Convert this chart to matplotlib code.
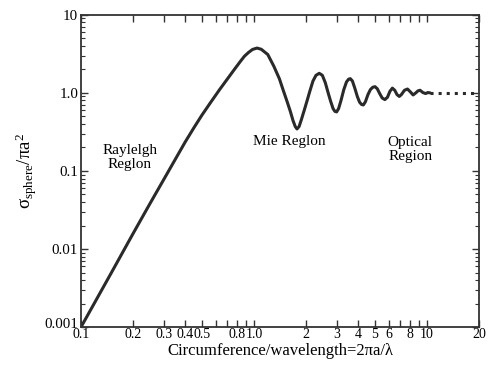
import matplotlib
matplotlib.use("Agg")
import matplotlib.pyplot as plt
import matplotlib.transforms as mtransforms
from matplotlib.ticker import FixedLocator, NullLocator, LogLocator, NullFormatter

plt.rcParams['font.family'] = ['Liberation Serif', 'DejaVu Serif']
plt.rcParams['mathtext.fontset'] = 'custom'
plt.rcParams['mathtext.rm'] = 'Liberation Serif'
plt.rcParams['mathtext.it'] = 'Liberation Serif:italic'

# curve (solid part)
ka = [0.1, 0.15, 0.2, 0.25, 0.3, 0.35, 0.4, 0.45, 0.5, 0.56, 0.63, 0.7, 0.77,
      0.83, 0.88, 0.93, 0.98, 1.04, 1.1, 1.2, 1.3, 1.4, 1.47, 1.55, 1.62,
      1.68, 1.73, 1.77, 1.82, 1.88, 1.95, 2.02, 2.1, 2.19, 2.28, 2.38, 2.48,
      2.58, 2.68, 2.77, 2.86, 2.93, 3.0, 3.08, 3.18, 3.3, 3.42, 3.52, 3.6,
      3.7, 3.82, 3.95, 4.07, 4.18, 4.28, 4.4, 4.55, 4.7, 4.85, 5.0, 5.15,
      5.32, 5.5, 5.7, 5.9, 6.1, 6.3, 6.5, 6.7, 6.9, 7.1, 7.4, 7.7, 8.0, 8.3,
      8.6, 8.85, 9.1, 9.45, 9.8, 10.1, 10.4]
rcs = [0.001, 0.005, 0.0158, 0.038, 0.077, 0.14, 0.235, 0.36, 0.52, 0.75,
       1.09, 1.5, 2.0, 2.5, 2.95, 3.3, 3.6, 3.75, 3.62, 3.1, 2.2, 1.52,
       1.1, 0.78, 0.58, 0.44, 0.37, 0.345, 0.37, 0.46, 0.6, 0.78, 1.05, 1.42,
       1.68, 1.78, 1.68, 1.35, 1.0, 0.78, 0.63, 0.58, 0.57, 0.63, 0.8, 1.1,
       1.38, 1.5, 1.52, 1.42, 1.15, 0.9, 0.76, 0.71, 0.70, 0.77, 0.95, 1.1,
       1.18, 1.2, 1.13, 0.98, 0.86, 0.82, 0.88, 1.05, 1.15, 1.08, 0.95, 0.9,
       0.95, 1.08, 1.12, 1.03, 0.94, 1.0, 1.06, 1.08, 1.01, 0.98, 1.01, 1.0]

# optical limit (dotted)
ka_opt = [10.4, 20]
rcs_opt = [1.0, 1.0]

xticks = [0.1, 0.2, 0.3, 0.4, 0.5, 0.6, 0.7, 0.8, 0.9, 1.0,
          2, 3, 4, 5, 6, 7, 8, 9, 10, 20]
xlabels = ['0.1', '0.2', '0.3', '0.4', '0.5', '', '', '0.8', '', '1.0',
           '2', '3', '4', '5', '6', '', '8', '', '10', '20']
yticks = [0.001, 0.01, 0.1, 1.0, 10]
ylabels = ['0.001', '0.01', '0.1', '1.0', '10']

fig = plt.figure(figsize=(4.91, 3.70), dpi=100)
ax = fig.add_axes([0.165, 0.116, 0.811, 0.844])

ax.plot(ka, rcs, '-', color='#2a2a2a', linewidth=2.2, solid_capstyle='round',
        solid_joinstyle='round')
ax.plot(ka_opt, rcs_opt, ':', color='#2a2a2a', linewidth=2.2)

ax.set_xscale('log')
ax.set_yscale('log')
ax.set_xlim(0.1, 20)
ax.set_ylim(0.001, 10)

ax.xaxis.set_major_locator(FixedLocator(xticks))
ax.set_xticklabels(xlabels)
ax.xaxis.set_minor_locator(NullLocator())
ax.yaxis.set_major_locator(FixedLocator(yticks))
ax.set_yticklabels(ylabels)
ax.yaxis.set_minor_locator(LogLocator(base=10, subs=range(2, 10)))
ax.yaxis.set_minor_formatter(NullFormatter())

ax.tick_params(which='both', direction='in', top=True, right=True,
               color='#333333', labelsize=10.8, pad=2)
ax.tick_params(axis='x', pad=1, labelsize=10)
ax.tick_params(which='major', length=5, width=1.0)
ax.tick_params(which='minor', length=3, width=0.8)
for s in ax.spines.values():
    s.set_linewidth(1.3)
    s.set_color('#333333')

# lift the lowest y label a little so it clears the 0.1 label below it
low = ax.get_yticklabels()[0]
low.set_transform(low.get_transform() +
                  mtransforms.ScaledTranslation(0, 3 / 72, fig.dpi_scale_trans))

ax.set_xlabel('Circumference/wavelength=2πa/λ', fontsize=12, labelpad=1)
ax.set_ylabel(r'$\mathrm{\sigma_{sphere}/\pi a^2}$', fontsize=13.5, labelpad=4)

ax.text(0.192, 0.15, 'Raylelgh\nReglon', ha='center', va='center',
        fontsize=11, linespacing=1.1)
ax.text(1.59, 0.235, 'Mie Reglon', ha='center', va='center', fontsize=11)
ax.text(7.98, 0.186, 'Optical\nRegion', ha='center', va='center',
        fontsize=11, linespacing=1.1)

fig.savefig('out.png', dpi=100)
